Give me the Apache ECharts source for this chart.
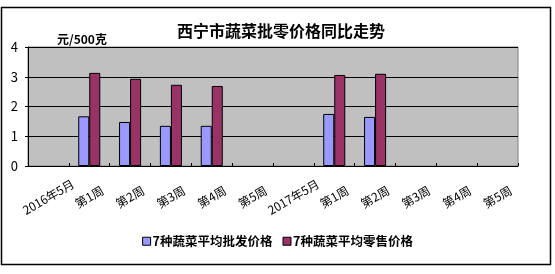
<!DOCTYPE html>
<html><head><meta charset="utf-8">
<script src="https://cdn.jsdelivr.net/npm/echarts@6/dist/echarts.min.js"></script>
<style>html,body{margin:0;padding:0;background:#fff}#c{width:555px;height:274px}</style>
</head><body><div id="c"></div>
<script>
const categories = ['2016年5月','第1周','第2周','第3周','第4周','第5周','2017年5月','第1周','第2周','第3周','第4周','第5周'];
const wholesale = [null, 1.67, 1.48, 1.35, 1.35, null, null, 1.75, 1.65, null, null, null];
const retail = [null, 3.13, 2.93, 2.73, 2.69, null, null, 3.06, 3.10, null, null, null];
const yTicks = [0, 1, 2, 3, 4];
const seriesNames = ['7种蔬菜平均批发价格', '7种蔬菜平均零售价格'];
const FONT = '"Noto Sans CJK SC", "DejaVu Sans", sans-serif';
const chart = echarts.init(document.getElementById('c'), null, {renderer: 'canvas'});
chart.setOption({
  animation: false,
  backgroundColor: '#fff',
  graphic: [
    {type: 'rect', shape: {x: 1.5, y: 7.5, width: 549, height: 257}, style: {fill: 'none', stroke: '#000', lineWidth: 1.5}, z: -1},
    {type: 'rect', shape: {x: 28, y: 47, width: 490, height: 119}, style: {fill: '#C0C0C0', stroke: '#808080', lineWidth: 1}, z: -1}
  ],
  title: [
    {text: '西宁市蔬菜批零价格同比走势', left: 276, top: 18, textAlign: 'center',
     textStyle: {fontFamily: FONT, fontSize: 16, fontWeight: 'bold', color: '#000'}},
    {text: '元/500克', left: 52, top: 28,
     textStyle: {fontFamily: FONT, fontSize: 12, fontWeight: 'bold', color: '#000'}}
  ],
  legend: {
    data: seriesNames, left: 'center', top: 230, itemWidth: 8, itemHeight: 8, itemGap: 10,
    icon: 'rect',
    itemStyle: {borderColor: '#000', borderWidth: 1},
    textStyle: {fontFamily: FONT, fontSize: 12.5, fontWeight: 'bold', color: '#000', padding: [0,0,0,-3]}
  },
  grid: {left: 28, right: 37, top: 47, bottom: 108, containLabel: false},
  xAxis: {
    type: 'category', data: categories,
    axisLine: {lineStyle: {color: '#000', width: 1}},
    axisTick: {show: true, inside: true, length: 3, lineStyle: {color: '#000'}},
    axisLabel: {rotate: 30, interval: 0, align: 'center', verticalAlign: 'middle', margin: 31,
      fontFamily: FONT, fontSize: 12, color: '#000'}
  },
  yAxis: {
    type: 'value', min: 0, max: 4, interval: 1,
    axisLine: {show: true, lineStyle: {color: '#000'}},
    axisTick: {show: true, length: 3, lineStyle: {color: '#000'}},
    axisLabel: {margin: 10, fontFamily: FONT, fontSize: 13, color: '#000',
      formatter: v => yTicks.includes(v) ? String(v) : ''},
    splitLine: {show: true, lineStyle: {color: '#000', width: 1}}
  },
  series: [
    {name: seriesNames[0], type: 'bar', data: wholesale, barGap: '0%', barCategoryGap: '46%',
     itemStyle: {color: '#9999FF', borderColor: '#000', borderWidth: 1}},
    {name: seriesNames[1], type: 'bar', data: retail,
     itemStyle: {color: '#993366', borderColor: '#000', borderWidth: 1}}
  ]
});
</script></body></html>
